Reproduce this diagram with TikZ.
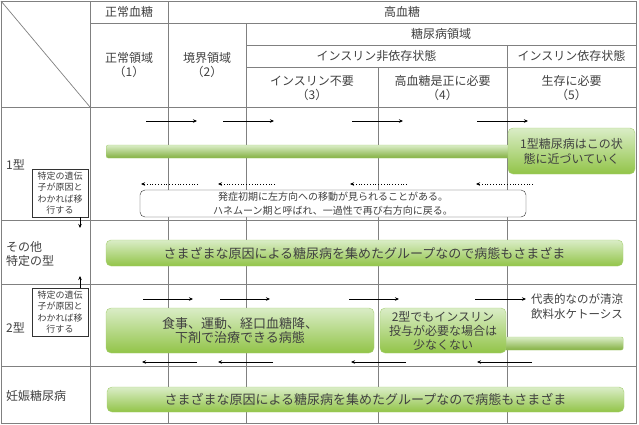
\documentclass[tikz,border=0pt]{standalone}
\usepackage{fontspec}
\setmainfont{Noto Sans CJK JP}
\usepackage{xcolor}
\usetikzlibrary{arrows.meta,positioning}

\definecolor{gridgray}{RGB}{128,128,128}
\definecolor{txtgray}{RGB}{64,64,64}
\definecolor{grntop}{RGB}{218,237,199}
\definecolor{grnbot}{RGB}{146,196,72}
\definecolor{grnline}{RGB}{165,206,115}

\tikzset{
  cell/.style={font=\fontsize{12}{14}\selectfont, text=txtgray, align=center, inner sep=0pt},
  greenbox/.style={draw=grnline, top color=grntop, bottom color=grnbot, rounded corners=5pt,
    align=center, text=txtgray, inner sep=0pt},
  greenbar/.style={draw=grnline, top color=grntop, bottom color=grnbot!90!black, rounded corners=2pt,
    inner sep=0pt, minimum height=13pt},
  notebox/.style={draw=black!80, fill=white, align=center, font=\fontsize{9}{11.5}\selectfont,
    text=txtgray, inner sep=0pt, minimum width=56pt, minimum height=48pt},
  fwd/.style={-{Stealth[length=4pt,width=3.5pt]}, line width=0.8pt},
  back/.style={-{Stealth[length=4pt,width=3.5pt]}, line width=0.8pt, dotted},
}

\begin{document}
\begin{tikzpicture}[x=1pt, y=-1pt]
    \useasboundingbox (0,0) rectangle (639,424);

    \draw[gridgray, line width=0.7pt] (1,1) rectangle (636,423);
    \draw[gridgray, line width=0.7pt] (1,1) -- (90,107);
    \draw[gridgray, line width=0.7pt] (90,23) -- (636,23);
    \draw[gridgray, line width=0.7pt] (246,45) -- (636,45);
    \draw[gridgray, line width=0.7pt] (246,67) -- (636,67);
    \foreach \y in {107,220,284,366}
        \draw[gridgray, line width=0.7pt] (1,\y) -- (636,\y);
    \draw[gridgray, line width=0.7pt] (90,1) -- (90,423);
    \draw[gridgray, line width=0.7pt] (168,1) -- (168,423);
    \draw[gridgray, line width=0.7pt] (246,23) -- (246,423);
    \draw[gridgray, line width=0.7pt] (378,67) -- (378,423);
    \draw[gridgray, line width=0.7pt] (507,45) -- (507,423);

    \node[cell] (normal) at (129,12) {正常血糖};
    \node[cell] (high) at (402,12) {高血糖};
    \node[cell] (dmarea) at (441,34) {糖尿病領域};
    \node[cell] (niddm) at (376.5,56) {インスリン非依存状態};
    \node[cell] (iddm) at (571.5,56) {インスリン依存状態};
    \node[cell] (col1) at (129,65) {正常領域\\（1）};
    \node[cell] (col2) at (207,65) {境界領域\\（2）};
    \node[cell] (col3) at (312,88) {インスリン不要\\（3）};
    \node[cell] (col4) at (442.5,88) {高血糖是正に必要\\（4）};
    \node[cell] (col5) at (571.5,88) {生存に必要\\（5）};

    \node[cell, anchor=west] (type1) at (6,165) {1型};
    \node[cell, anchor=west, align=left] (other) at (6,254) {その他\\特定の型};
    \node[cell, anchor=west] (type2) at (6,328) {2型};
    \node[cell, anchor=west] (gdm) at (6,396) {妊娠糖尿病};

    \node[notebox] (gene1) at (60,193) {特定の遺伝\\子が原因と\\わかれば移\\行する};
    \node[notebox] (gene2) at (60,312) {特定の遺伝\\子が原因と\\わかれば移\\行する};
    \coordinate (down1) at (80,228);
    \coordinate (up2) at (80,276);
    \draw[fwd] (gene1.south -| down1) -- (down1);
    \draw[fwd] (gene2.north -| up2) -- (up2);

    \foreach \i/\xa in {1/146,2/223,3/352,4/477} {
        \coordinate (ra\i) at (\xa,121);
        \coordinate (rb\i) at (\xa+51,121);
        \draw[fwd] (ra\i) -- (rb\i);
    }
    \node[greenbar, minimum width=404pt, anchor=west] (bar1) at (106,151.5) {};
    \node[greenbox, minimum width=127pt, minimum height=46pt, font=\fontsize{12}{15}\selectfont]
        (approach) at (571.5,151) {1型糖尿病はこの状\\態に近づいていく};
    \foreach \i/\xa in {1/141,2/218,3/350,4/476} {
        \coordinate (la\i) at (\xa+57,184);
        \coordinate (lb\i) at (\xa,184);
        \draw[back] (la\i) -- (lb\i);
    }
    \node[draw=black!80, fill=white, rounded corners=5pt, minimum width=386pt, minimum height=27pt,
        inner sep=0pt, align=center, text=txtgray, font=\fontsize{10}{14.5}\selectfont]
        (honeymoon) at (333,203.5) {発症初期に左方向への移動が見られることがある。\\ハネムーン期と呼ばれ、一過性で再び右方向に戻る。};

    \node[greenbox, minimum width=517pt, minimum height=26pt, font=\fontsize{13}{13}\selectfont]
        (various1) at (364.5,253) {さまざまな原因による糖尿病を集めたグループなので病態もさまざま};

    \node[cell, anchor=west, align=left, font=\fontsize{11.5}{15}\selectfont] (keto) at (531,306.5)
        {代表的なのが清涼\\飲料水ケトーシス};
    \foreach \i/\xa in {1/143,2/220,3/349} {
        \coordinate (sa\i) at (\xa,299);
        \coordinate (sb\i) at (\xa+50,299);
        \draw[fwd] (sa\i) -- (sb\i);
    }
    \coordinate (sa4) at (475,299);
    \draw[fwd, shorten >=5pt] (sa4) -- (keto.west |- sa4);
    \node[greenbar, minimum width=123pt, anchor=west] (bar2) at (500,343.5) {};
    \node[greenbox, minimum width=268pt, minimum height=45pt, font=\fontsize{13}{14.5}\selectfont]
        (diet) at (240,330.5) {食事、運動、経口血糖降、\\下剤で治療できる病態};
    \node[greenbox, minimum width=126pt, minimum height=45pt, font=\fontsize{12}{14}\selectfont]
        (insulin) at (443,330.5) {2型でもインスリン\\投与が必要な場合は\\少なくない};
    \foreach \i/\xa in {1/142,2/218,3/351,4/477} {
        \coordinate (ta\i) at (\xa+55,362);
        \coordinate (tb\i) at (\xa,362);
        \draw[fwd] (ta\i) -- (tb\i);
    }

    \node[greenbox, minimum width=517pt, minimum height=25pt, font=\fontsize{13}{13}\selectfont]
        (various2) at (365.5,399.5) {さまざまな原因による糖尿病を集めたグループなので病態もさまざま};
\end{tikzpicture}
\end{document}
